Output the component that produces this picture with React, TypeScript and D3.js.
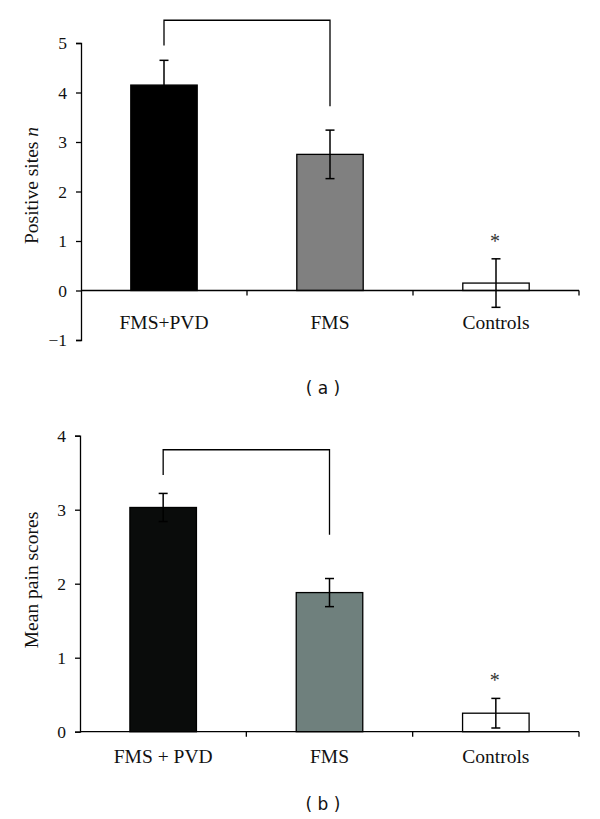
import { useEffect, useRef } from 'react';
import { select, scaleBand, scaleLinear, axisLeft } from 'd3';

// panel (a): positive sites
const catsA = ['FMS+PVD', 'FMS', 'Controls'];
const valuesA = [4.15, 2.75, 0.15];
const errorsA = [0.5, 0.49, 0.49];
const ticksA = [-1, 0, 1, 2, 3, 4, 5];
const colorsA = ['#000000', '#808080', '#ffffff'];

// panel (b): mean pain scores
const catsB = ['FMS + PVD', 'FMS', 'Controls'];
const valuesB = [3.03, 1.88, 0.25];
const errorsB = [0.19, 0.19, 0.2];
const ticksB = [0, 1, 2, 3, 4];
const colorsB = ['#0a0c0b', '#6f807d', '#ffffff'];

// significance bracket: [top, left end, right end] in data units
const bracketA = [5.46, 4.95, 3.72];
const bracketB = [3.81, 3.47, 2.66];
const starA = 1.07;
const starB = 0.74;

const SERIF = 'Liberation Serif, Times New Roman, serif';

interface PanelCfg {
  cats: string[];
  values: number[];
  errors: number[];
  ticks: number[];
  colors: string[];
  bracket: number[];
  star: number;
  yLabel: string;
  yItalic?: string;
  yLabelCenter: number;
  domain: [number, number];
  yRange: [number, number];
  xRange: [number, number];
  labelOffset: number;
  panelTag: string;
  tagY: number;
}

function drawPanel(svg: any, cfg: PanelCfg) {
  const g = svg.append('g');
  const x = scaleBand<string>().domain(cfg.cats).range(cfg.xRange).padding(0);
  const y = scaleLinear().domain(cfg.domain).range(cfg.yRange);
  const bw = x.bandwidth() * 0.4;
  const cx = (c: string) => (x(c) ?? 0) + x.bandwidth() / 2;

  // bars
  g.selectAll('rect.bar')
    .data(cfg.cats)
    .join('rect')
    .attr('class', 'bar')
    .attr('x', (c: string) => cx(c) - bw / 2)
    .attr('y', (_: string, i: number) => y(cfg.values[i]))
    .attr('width', bw)
    .attr('height', (_: string, i: number) => y(0) - y(cfg.values[i]))
    .attr('fill', (_: string, i: number) => cfg.colors[i])
    .attr('stroke', '#000')
    .attr('stroke-width', 1.3);

  // error bars
  const eb = g.selectAll('g.err').data(cfg.cats).join('g').attr('class', 'err');
  eb.append('line')
    .attr('x1', cx).attr('x2', cx)
    .attr('y1', (_: string, i: number) => y(cfg.values[i] + cfg.errors[i]))
    .attr('y2', (_: string, i: number) => y(cfg.values[i] - cfg.errors[i]))
    .attr('stroke', '#000').attr('stroke-width', 1.5);
  [1, -1].forEach((s) => {
    eb.append('line')
      .attr('x1', (c: string) => cx(c) - 4.5).attr('x2', (c: string) => cx(c) + 4.5)
      .attr('y1', (_: string, i: number) => y(cfg.values[i] + s * cfg.errors[i]))
      .attr('y2', (_: string, i: number) => y(cfg.values[i] + s * cfg.errors[i]))
      .attr('stroke', '#000').attr('stroke-width', 1.5);
  });

  // y axis
  const ya = g.append('g')
    .attr('transform', `translate(${cfg.xRange[0]},0)`)
    .call(axisLeft(y).tickValues(cfg.ticks).tickSize(5).tickPadding(9)
      .tickFormat((d: any) => (d < 0 ? `\u2212${Math.abs(d)}` : `${d}`)));
  ya.attr('font-family', SERIF).attr('font-size', 17.5);
  ya.select('.domain').attr('stroke', '#000').attr('stroke-width', 1.3);
  ya.selectAll('line').attr('stroke', '#000').attr('stroke-width', 1.3);
  ya.selectAll('text').attr('font-family', SERIF).attr('font-size', 17.5).attr('fill', '#111');

  // x axis at zero, ticks at band boundaries
  const xa = g.append('g').attr('transform', `translate(0,${y(0)})`);
  xa.append('line')
    .attr('x1', cfg.xRange[0]).attr('x2', cfg.xRange[1])
    .attr('stroke', '#000').attr('stroke-width', 1.3);
  xa.selectAll('line.t')
    .data(cfg.cats)
    .join('line')
    .attr('class', 't')
    .attr('x1', (c: string) => (x(c) ?? 0) + x.bandwidth())
    .attr('x2', (c: string) => (x(c) ?? 0) + x.bandwidth())
    .attr('y1', 0).attr('y2', 5)
    .attr('stroke', '#000').attr('stroke-width', 1.3);
  xa.selectAll('text')
    .data(cfg.cats)
    .join('text')
    .attr('x', cx)
    .attr('y', cfg.labelOffset)
    .attr('text-anchor', 'middle')
    .attr('font-family', SERIF)
    .attr('font-size', 19.5)
    .attr('fill', '#111')
    .text((c: string) => c);

  // bracket
  const [bt, bl, br] = cfg.bracket;
  const xl = cx(cfg.cats[0]);
  const xr = cx(cfg.cats[1]);
  g.append('path')
    .attr('d', `M${xl},${y(bl)}V${y(bt)}H${xr}V${y(br)}`)
    .attr('fill', 'none').attr('stroke', '#000').attr('stroke-width', 1.3);

  // asterisk
  g.append('text')
    .attr('x', cx(cfg.cats[2]) - 1)
    .attr('y', y(cfg.star) + 10.5)
    .attr('text-anchor', 'middle')
    .attr('font-family', SERIF)
    .attr('font-size', 20)
    .attr('fill', '#333')
    .text('*');

  // y label
  const yl = g.append('text')
    .attr('transform', `translate(37.5,${cfg.yLabelCenter}) rotate(-90)`)
    .attr('text-anchor', 'middle')
    .attr('font-family', SERIF)
    .attr('font-size', 19.5)
    .attr('fill', '#111');
  yl.append('tspan').text(cfg.yLabel);
  if (cfg.yItalic) yl.append('tspan').attr('font-style', 'italic').text(cfg.yItalic);

  // panel tag
  g.append('text')
    .attr('x', 323)
    .attr('y', cfg.tagY)
    .attr('text-anchor', 'middle')
    .attr('font-family', 'DejaVu Sans, Verdana, sans-serif')
    .attr('font-size', 17)
    .attr('fill', '#111')
    .style('white-space', 'pre')
    .text(cfg.panelTag);
}

export default function App() {
  const ref = useRef<SVGSVGElement | null>(null);

  useEffect(() => {
    if (!ref.current) return;
    const svg = select(ref.current);
    svg.selectAll('*').remove();
    svg.append('rect').attr('width', 600).attr('height', 819).attr('fill', '#fff');

    drawPanel(svg, {
      cats: catsA, values: valuesA, errors: errorsA, ticks: ticksA, colors: colorsA,
      bracket: bracketA, star: starA,
      yLabel: 'Positive sites ', yItalic: 'n', yLabelCenter: 185.5,
      domain: [-1, 5], yRange: [340, 43], xRange: [81, 579],
      labelOffset: 38, panelTag: '( a )', tagY: 394,
    });

    drawPanel(svg, {
      cats: catsB, values: valuesB, errors: errorsB, ticks: ticksB, colors: colorsB,
      bracket: bracketB, star: starB,
      yLabel: 'Mean pain scores', yLabelCenter: 580,
      domain: [0, 4], yRange: [731.7, 435.7], xRange: [80, 579],
      labelOffset: 31, panelTag: '( b )', tagY: 810,
    });
  }, []);

  return (
    <svg
      ref={ref}
      width={600}
      height={819}
      style={{ position: 'absolute', left: 0, top: 0, display: 'block' }}
    />
  );
}
